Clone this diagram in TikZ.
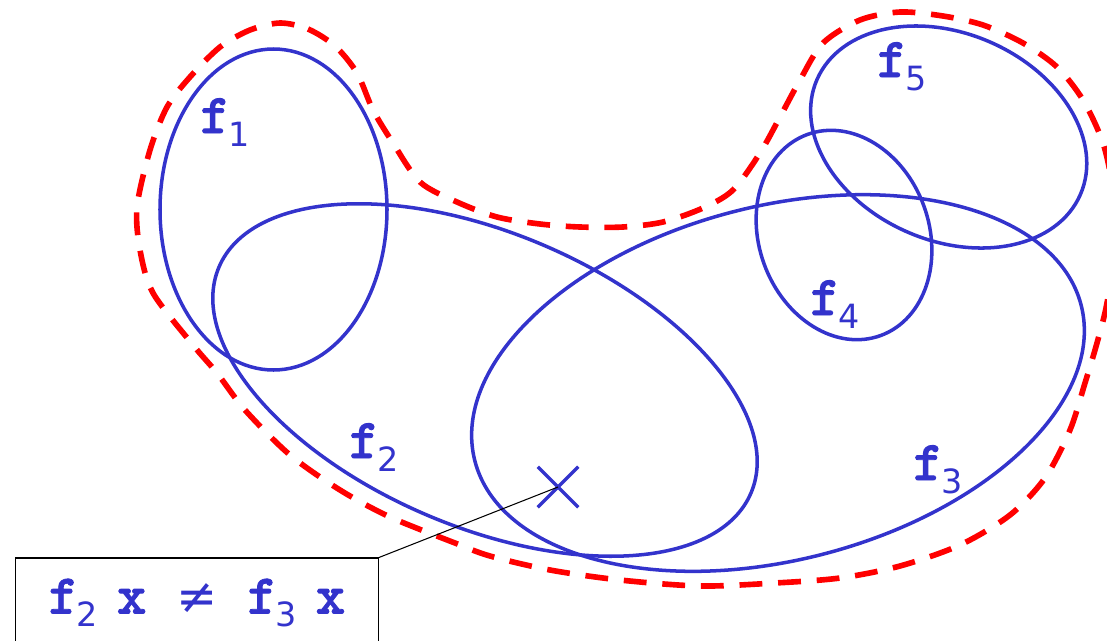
\documentclass[tikz,border=0pt]{standalone}
\usepackage{xcolor}
\usepackage{fontspec}
\usepackage{tikz}
\usetikzlibrary{shapes.misc}
\newfontfamily\digitfont{DejaVu Sans}
\newfontfamily\slabfont[FakeBold=1.5]{lmmonolt10-bold.otf}
\definecolor{setblue}{RGB}{51,51,204}
\newcommand{\fsub}[1]{{\slabfont f}\kern-1pt\raisebox{-7.5pt}{\digitfont\fontsize{19}{19}\selectfont #1}}

\tikzset{
	setline/.style={draw=setblue, line width=2pt},
	hull/.style={draw=red, line width=3.2pt, dash pattern=on 13pt off 9pt},
	flabel/.style={text=setblue, inner sep=0pt, anchor=base west, font=\slabfont\fontsize{32}{32}\selectfont},
	notebox/.style={draw=black, line width=0.6pt, text=setblue, inner sep=0pt, minimum width=7.26cm, minimum height=1.8cm, font=\slabfont\fontsize{32}{32}\selectfont}
}

\begin{document}
\begin{tikzpicture}[x=0.02cm, y=-0.02cm]
\useasboundingbox (0,0) rectangle (1107,640);
\draw[hull] plot[smooth cycle] coordinates {(280,23) (308,29) (335,46) (357,73) (373,110) (393,143) (420,182) (457,202) (497,217) (540,224) (580,227) (623,227) (663,222) (703,208) (733,190) (760,153) (780,117) (800,80) (823,43) (860,20) (900,12) (943,16) (983,25) (1023,43) (1057,67) (1083,100) (1103,143) (1113,190) (1116,240) (1107,303) (1097,343) (1085,383) (1070,430) (1045,478) (1010,515) (960,545) (900,566) (840,578) (775,583) (700,586) (620,580) (550,570) (490,556) (455,543) (390,517) (340,490) (290,455) (245,410) (217,373) (193,345) (153,293) (140,250) (137,207) (150,150) (167,107) (190,77) (220,47) (250,30)};
\draw[setline] (273.5,209.5) ellipse [x radius=113.5, y radius=160.5];
\draw[setline, rotate around={-23:(485,380)}] (485,380) ellipse [x radius=289, y radius=147];
\draw[setline, rotate around={14.4:(778,383)}] (778,383) ellipse [x radius=313, y radius=177];
\draw[setline, rotate around={20:(844,235)}] (844,235) ellipse [x radius=85, y radius=107];
\draw[setline, rotate around={-23.6:(948.7,137)}] (948.7,137) ellipse [x radius=143.7, y radius=103.6];
\node[flabel] (f1) at (200,133){\fsub{1}};
\node[flabel] (f2) at (349,458){\fsub{2}};
\node[flabel] (f3) at (913,480){\fsub{3}};
\node[flabel] (f4) at (810,315){\fsub{4}};
\node[flabel] (f5) at (877,77){\fsub{5}};
\node[draw=setblue, line width=2pt, cross out, minimum size=0.74cm, inner sep=0pt] (x) at (558,487){};
\node[notebox] (note) at (197,603){\fsub{2}\hspace{11pt}x\hspace{17pt}{\digitfont\fontsize{28}{28}\selectfont ≠}\hspace{17pt}\fsub{3}\hspace{11pt}x};
\draw[line width=0.6pt] (note.north east) -- (x.center);
\end{tikzpicture}
\end{document}
